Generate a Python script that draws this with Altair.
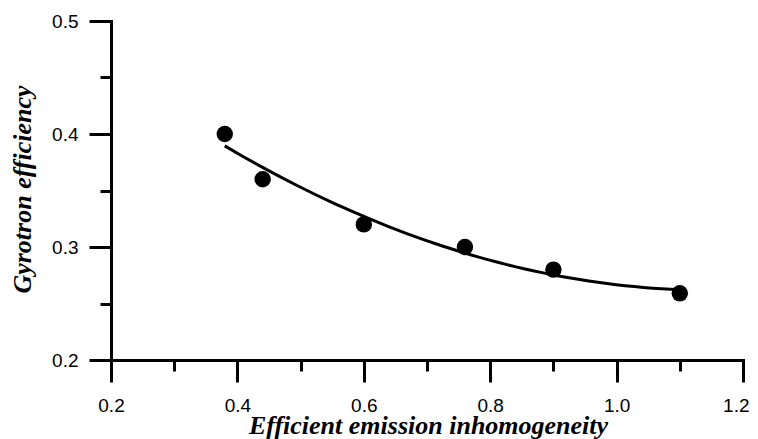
import altair as alt
import pandas as pd

# Data
inhomogeneity = [0.38, 0.44, 0.60, 0.76, 0.90, 1.10]
efficiency = [0.400, 0.360, 0.320, 0.300, 0.280, 0.259]

x_ticks = [0.2, 0.3, 0.4, 0.5, 0.6, 0.7, 0.8, 0.9, 1.0, 1.1, 1.2]
y_ticks = [0.2, 0.25, 0.3, 0.35, 0.4, 0.45, 0.5]

df = pd.DataFrame({"x": inhomogeneity, "y": efficiency})

W, H = 632, 339

x_scale = alt.Scale(domain=[0.2, 1.2], nice=False, zero=False)
y_scale = alt.Scale(domain=[0.2, 0.5], nice=False, zero=False)

x_axis = alt.Axis(
    values=x_ticks,
    title="Efficient emission inhomogeneity",
    grid=False,
    domainColor="black", domainWidth=3, domainCap="square",
    tickColor="black", tickWidth=3,
    tickSize={"condition": {"test": "round(datum.value*10) % 2 == 1", "value": 11}, "value": 22},
    labelExpr="round(datum.value*10) % 2 == 1 ? '' : format(datum.value, '.1f')",
    labelFont="Liberation Sans", labelFontSize=19, labelColor="black",
    labelBaseline="alphabetic", labelPadding=29, labelFlush=False,
    labelAlign={"condition": {"test": "datum.value > 1.15", "value": "right"}, "value": "center"},
    labelOffset={"condition": {"test": "datum.value > 1.15", "value": 6}, "value": 0},
    titleFont="Liberation Serif", titleFontSize=26, titleFontWeight="bold",
    titleFontStyle="italic", titleColor="black",
    titleX=317, titleY=73, titleBaseline="alphabetic", titleAlign="center",
)

y_axis = alt.Axis(
    values=y_ticks,
    title="Gyrotron efficiency",
    grid=False,
    domainColor="black", domainWidth=3, domainCap="square",
    tickColor="black", tickWidth=3,
    tickSize={"condition": {"test": "round(datum.value*20) % 2 == 1", "value": 11}, "value": 22},
    labelExpr="round(datum.value*20) % 2 == 1 ? '' : format(datum.value, '.1f')",
    labelFont="Liberation Sans", labelFontSize=19, labelColor="black",
    labelPadding=11, labelFlush=False,
    titleFont="Liberation Serif", titleFontSize=26, titleFontWeight="bold",
    titleFontStyle="italic", titleColor="black",
    titleX=-81, titleY=168, titleAngle=-90, titleBaseline="alphabetic", titleAlign="center",
)

base = alt.Chart(df)

points = base.mark_circle(size=270, color="black", opacity=1).encode(
    x=alt.X("x:Q", scale=x_scale, axis=x_axis),
    y=alt.Y("y:Q", scale=y_scale, axis=y_axis),
)

fit = base.transform_regression(
    "x", "y", method="poly", order=2, extent=[0.38, 1.1]
).mark_line(color="black", strokeWidth=3).encode(
    x=alt.X("x:Q", scale=x_scale),
    y=alt.Y("y:Q", scale=y_scale),
)

chart = (fit + points).properties(
    width=W, height=H,
    autosize=alt.AutoSizeParams(type="none"),
    padding={"left": 103, "top": 13, "right": 7, "bottom": 80},
    background="white",
).configure_view(stroke=None)

chart.save("out.html", embed_options={"renderer": "svg", "actions": False})
